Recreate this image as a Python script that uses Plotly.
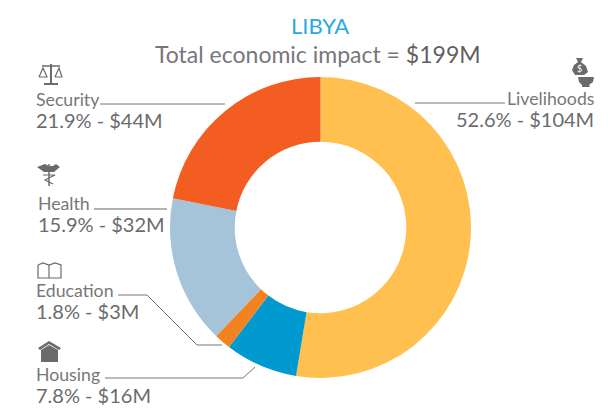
import plotly.graph_objects as go

OFFSET = 8
W, H = 608 - OFFSET, 414 - OFFSET
categories = ["Livelihoods", "Housing", "Education", "Health", "Security"]
shares = [52.6, 7.8, 1.8, 15.9, 21.9]
amounts = ["$104M", "$16M", "$3M", "$32M", "$44M"]
colors = ["#FFC04F", "#0099D0", "#F58220", "#A5C3D9", "#F45D22"]
GREY = "#6b6b6d"
FONT = "Lato, 'Open Sans', sans-serif"

def px(x): return (x - OFFSET) / W
def py(y): return 1 - (y - OFFSET) / H

fig = go.Figure(go.Pie(
    values=shares, labels=categories, sort=False, direction="clockwise", rotation=0,
    hole=0.57, marker=dict(colors=colors, line=dict(width=0)), textinfo="none",
    showlegend=False, hoverinfo="label+percent",
    domain=dict(x=[px(170), px(471)], y=[py(378), py(77)]),
))

def text(x, y, s, size, color=GREY, anchor="left"):
    fig.add_annotation(x=px(x), y=py(y), xref="paper", yref="paper", text=s, showarrow=False,
                       xanchor=anchor, yanchor="middle", align=anchor,
                       font=dict(family=FONT, size=size, color=color), borderpad=0, borderwidth=0)

text(320, 25, "LIBYA", 22, "#2AA9DF", "center")
text(318, 54, "Total economic impact = <span style='color:#5f5f61'>$199M</span>", 23, "#77777a", "center")

entries = [(506, 98, 594, "right", 0), (36, 374, 36, "left", 1), (36, 290, 36, "left", 2),
           (38, 203, 38, "left", 3), (36, 99, 36, "left", 4)]
for (_, ly, ax, anc, i) in entries:
    text(ax, ly, categories[i], 17.7, "#77777a", anc)
    text(ax, ly + 21, f"{shares[i]}% - {amounts[i]}", 20, GREY, anc)

def line(pts, color="#77777a", width=1):
    d = "M" + " L".join(f"{px(x)},{py(y)}" for x, y in pts)
    fig.add_shape(type="path", path=d, xref="paper", yref="paper", line=dict(color=color, width=width))

def fill(d_pts, color=GREY):
    d = "M" + " L".join(f"{px(x)},{py(y)}" for x, y in d_pts) + " Z"
    fig.add_shape(type="path", path=d, xref="paper", yref="paper", fillcolor=color, line=dict(width=0))

line([(415, 103), (505, 103)])
line([(100, 104), (225, 104)])
line([(94, 209), (167, 209)], "#999999", 1.5)
line([(118, 295), (147, 295), (197, 345), (222, 345)])
line([(105, 378), (243, 378), (255, 367)])

# scales icon
line([(51, 64), (51, 84)], GREY, 2)
line([(44, 84), (58, 84)], GREY, 2)
line([(42, 66), (60, 66)], GREY, 1.5)
line([(39, 77), (43, 68), (47, 77), (39, 77)], GREY, 1.2)
line([(55, 77), (59, 68), (62, 77), (55, 77)], GREY, 1.2)
# caduceus icon
fill([(37, 167), (45, 164), (49, 166), (53, 166), (56, 164), (60, 167), (54, 172), (44, 172)])
line([(49, 164), (49, 186)], GREY, 1.5)
line([(43, 175), (55, 175), (45, 180), (53, 184)], GREY, 1.2)
# book icon
line([(38, 265), (43, 263), (49, 265), (55, 263), (61, 265), (61, 278), (38, 278), (38, 265)], GREY, 1.2)
line([(49, 265), (49, 278)], GREY, 1.2)
# house icon
fill([(38, 348), (49, 341), (61, 348), (59, 350), (49, 344), (40, 350)])
fill([(41, 350), (49, 345), (58, 350), (58, 362), (41, 362)])
# money-bag and bowl icon
fill([(576, 58), (583, 58), (581, 62), (586, 66), (588, 72), (584, 75), (575, 75), (572, 70), (574, 65), (578, 62)])
text(579, 68, "$", 9, "white", "center")
fill([(578, 77), (594, 77), (593, 82), (589, 85), (590, 87), (582, 87), (582, 85), (579, 82)])

fig.update_layout(width=W, height=H, margin=dict(l=0, r=0, t=0, b=0),
                  paper_bgcolor="white", plot_bgcolor="white")
fig.write_html("out.html", config=dict(displayModeBar=False))
